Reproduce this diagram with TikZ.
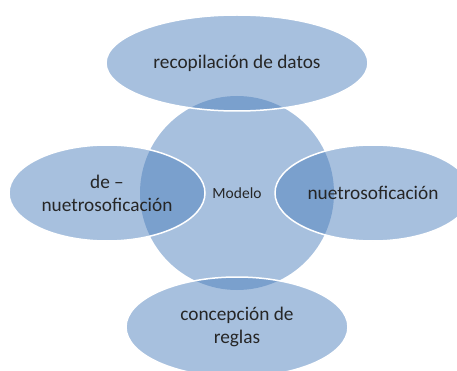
\documentclass[tikz,border=0pt]{standalone}
\usepackage{fontspec}
\setmainfont{Carlito}
\usetikzlibrary{positioning,shapes.geometric}
\definecolor{azul}{RGB}{79,129,189}

\begin{document}
\begin{tikzpicture}[x=1pt,y=1pt,
    burbuja/.style={ellipse,fill=azul,fill opacity=0.5,text opacity=1,draw=white,line width=1.5pt,
                    text=black!85,align=center,inner sep=0pt,font=\fontsize{19.3}{23}\selectfont},
    centro/.style={circle,fill=azul,fill opacity=0.5,text opacity=1,draw=none,minimum size=194pt,
                   text=black!85,inner sep=0pt,font=\fontsize{15.5}{18}\selectfont}]
    \clip (0,0) rectangle (457,370);
    \useasboundingbox (0,0) rectangle (457,370);
    \node[centro] (Modelo) at (237,177) {Modelo};
    %
    \node[burbuja,minimum width=262pt,minimum height=96pt,above of=Modelo,node distance=130pt] (Datos) {recopilación de datos};
    \node[burbuja,minimum width=196pt,minimum height=96pt,left of=Modelo,node distance=130pt] (Denuetro) {de –\\nuetrosoficación};
    \node[burbuja,minimum width=196pt,minimum height=96pt,right of=Modelo,node distance=136pt] (Nuetro) {nuetrosoficación};
    \node[burbuja,minimum width=222pt,minimum height=100pt,below of=Modelo,node distance=134pt] (Reglas) {concepción de\\reglas};
\end{tikzpicture}
\end{document}
